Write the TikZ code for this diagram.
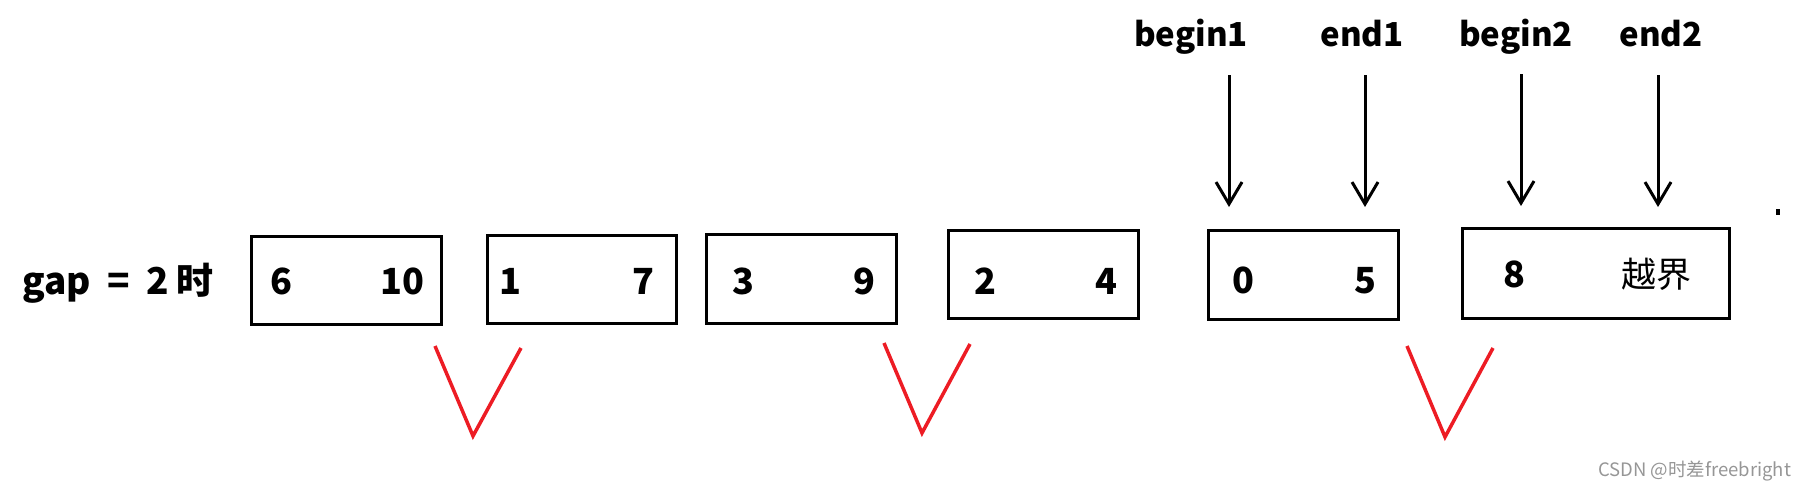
\documentclass[tikz,border=0pt]{standalone}
\usepackage{fontspec}
\setmainfont{Noto Sans CJK SC}
\usetikzlibrary{arrows.meta}
\definecolor{vred}{RGB}{237,28,36}
\definecolor{wmgray}{RGB}{150,150,150}
\begin{document}
\begin{tikzpicture}[x=1pt,y=-1pt,
  box/.style={draw, line width=3pt, inner sep=0pt, anchor=north west},
  num/.style={anchor=base, font=\fontsize{36}{40}\selectfont\bfseries, inner sep=0pt},
  cjk/.style={anchor=base, font=\fontsize{35}{40}\selectfont, inner sep=0pt},
  lab/.style={anchor=base, font=\fontsize{33}{38}\selectfont\bfseries, inner sep=0pt},
  ptr/.style={line width=3pt, -{Straight Barb[length=22pt,width=26pt]}},
  vmark/.style={draw=vred, line width=3.5pt, line join=miter}
]
\useasboundingbox (0,0) rectangle (1809,490);

% title
\node[num, anchor=base west, font=\fontsize{37}{40}\selectfont\bfseries] (gap) at (22,294) {gap\hspace{0.45em}=\hspace{0.45em}2\hspace{0.2em}时};

% boxes
\node[box, minimum width=190pt, minimum height=88pt] (b1) at (250,235) {};
\node[box, minimum width=189pt, minimum height=88pt] (b2) at (486,234) {};
\node[box, minimum width=190pt, minimum height=89pt] (b3) at (705,233) {};
\node[box, minimum width=190pt, minimum height=88pt] (b4) at (947,229) {};
\node[box, minimum width=190pt, minimum height=89pt] (b5) at (1207,229) {};
\node[box, minimum width=267pt, minimum height=90pt] (b6) at (1461,227) {};

% numbers
\node[num] (n1a) at (281,294) {6};
\node[num] (n1b) at (402,294) {10};
\node[num] (n2a) at (510,294) {1};
\node[num] (n2b) at (643,294) {7};
\node[num] (n3a) at (743,294) {3};
\node[num] (n3b) at (864,294) {9};
\node[num] (n4a) at (985,294) {2};
\node[num] (n4b) at (1106,294) {4};
\node[num] (n5a) at (1243,293) {0};
\node[num] (n5b) at (1365,293) {5};
\node[num] (n6a) at (1514,287) {8};
\node[cjk] (n6b) at (1656,287) {越界};

% labels
\node[lab] (l1) at (1191,46) {begin1};
\node[lab] (l2) at (1362,46) {end1};
\node[lab] (l3) at (1516,46) {begin2};
\node[lab] (l4) at (1661,46) {end2};

% arrows
\coordinate (a1s) at (1229,75);  \coordinate (a1e) at (1229,207);
\coordinate (a2s) at (1365,75);  \coordinate (a2e) at (1365,207);
\coordinate (a3s) at (1521,74);  \coordinate (a3e) at (1521,206);
\coordinate (a4s) at (1658,75);  \coordinate (a4e) at (1658,207);
\draw[ptr] (a1s) -- (a1e);
\draw[ptr] (a2s) -- (a2e);
\draw[ptr] (a3s) -- (a3e);
\draw[ptr] (a4s) -- (a4e);

% red V marks
\draw[vmark] (435,346) -- (473,436) -- (521,348);
\draw[vmark] (884,343) -- (922,433) -- (970,344);
\draw[vmark] (1407,346) -- (1445,437) -- (1493,348);

% stray dot
\fill (1776,209) rectangle (1780,215);

% watermark
\node[anchor=base west, inner sep=0pt, text=wmgray, font=\fontsize{18.5}{20}\selectfont] (wm) at (1598,476) {CSDN @时差freebright};
\end{tikzpicture}
\end{document}
